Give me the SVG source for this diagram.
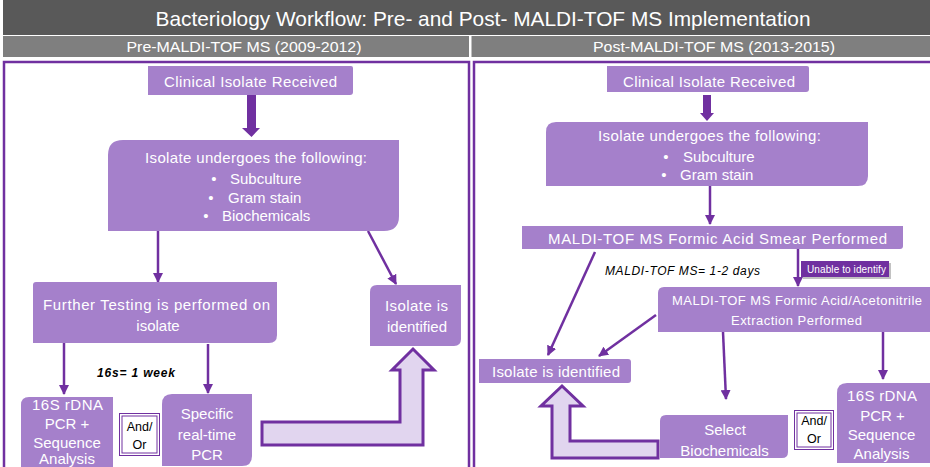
<svg xmlns="http://www.w3.org/2000/svg" width="930" height="467" viewBox="0 0 930 467">
<defs>
<style>
.node{fill:#a580cb;}
.t{font-family:"Liberation Sans",Arial,sans-serif;fill:#ffffff;}
.tc{text-anchor:middle;}
.conn{stroke:#7030a0;stroke-width:2.5;fill:none;}
.hollow{fill:#e1d5ef;stroke:#7030a0;stroke-width:3;}
.ao{fill:#ffffff;stroke:#7030a0;stroke-width:1;}
.aot{font-family:"Liberation Sans",Arial,sans-serif;fill:#000000;font-size:12.5px;text-anchor:middle;}
.it{font-family:"Liberation Sans",Arial,sans-serif;fill:#000000;font-size:12px;font-style:italic;}
</style>
<marker id="ah" viewBox="0 0 10 10" refX="9" refY="5" markerWidth="4" markerHeight="4" orient="auto" markerUnits="strokeWidth">
<path d="M0,0 L10,5 L0,10 Z" fill="#7030a0"/>
</marker>
</defs>
<rect x="0" y="0" width="930" height="467" fill="#ffffff"/>
<!-- header -->
<g id="header">
<rect x="3" y="0" width="927" height="35" fill="#595959"/>
<rect x="3" y="36" width="927" height="21" fill="#7f7f7f"/>
<rect x="469" y="36" width="2.5" height="21" fill="#ffffff"/>
<text x="483" y="26" class="t tc" font-size="21" textLength="655" lengthAdjust="spacingAndGlyphs">Bacteriology  Workflow: Pre- and Post- MALDI-TOF MS Implementation</text>
<text x="244" y="52" class="t tc" font-size="14.5" textLength="235" lengthAdjust="spacingAndGlyphs">Pre-MALDI-TOF  MS (2009-2012)</text>
<text x="714" y="52" class="t tc" font-size="14.5" textLength="242" lengthAdjust="spacingAndGlyphs">Post-MALDI-TOF  MS (2013-2015)</text>
</g>
<!-- panels -->
<g id="panels">
<rect x="4" y="62" width="465" height="420" fill="none" stroke="#7030a0" stroke-width="2.5"/>
<rect x="474" y="62" width="470" height="420" fill="none" stroke="#7030a0" stroke-width="2.5"/>
</g>
<!-- connectors -->
<g id="connectors">
<path d="M247,95 L256,95 L256,128 L260,128 L251.5,137 L242,128 L247,128 Z" fill="#7030a0"/>
<path d="M703,95 L711,95 L711,113 L714,113 L707,121 L700,113 L703,113 Z" fill="#7030a0"/>
<line x1="158" y1="231" x2="158" y2="282" class="conn" marker-end="url(#ah)"/>
<line x1="368" y1="231" x2="396" y2="284" class="conn" marker-end="url(#ah)"/>
<line x1="64" y1="343" x2="64" y2="394" class="conn" marker-end="url(#ah)"/>
<line x1="208" y1="344" x2="208" y2="393" class="conn" marker-end="url(#ah)"/>
<line x1="710" y1="186" x2="710" y2="224" class="conn" marker-end="url(#ah)"/>
<line x1="595" y1="252" x2="548" y2="355" class="conn" marker-end="url(#ah)"/>
<line x1="798" y1="249" x2="798" y2="286" class="conn" marker-end="url(#ah)"/>
<line x1="656" y1="315" x2="599" y2="356" class="conn" marker-end="url(#ah)"/>
<line x1="723" y1="332" x2="726" y2="399" class="conn" marker-end="url(#ah)"/>
<line x1="883" y1="332" x2="883" y2="379" class="conn" marker-end="url(#ah)"/>
<path class="hollow" d="M262,422 L400,422 L400,370 L392,370 L413,349 L434,370 L423,370 L423,445 L262,445 Z"/>
<path class="hollow" d="M658,441 L570,441 L570,406 L583,406 L562,386 L541,406 L552,406 L552,458 L658,458 Z"/>
</g>
<!-- left panel nodes -->
<g id="pre-clinical">
<path class="node" d="M148,66 L351,66 Q353,66 353,68 L353,92 Q353,95 350,95 L148,95 Z"/>
<text x="250.5" y="87" class="t tc" font-size="15" textLength="173" lengthAdjust="spacing">Clinical  Isolate  Received</text>
</g>
<g id="pre-undergoes">
<path class="node" d="M123,140 L399,140 L399,216 Q399,231 384,231 L108,231 L108,155 Q108,140 123,140 Z"/>
<text x="256" y="163" class="t tc" font-size="15" textLength="222" lengthAdjust="spacing">Isolate  undergoes   the following:</text>
<text x="214" y="184" class="t tc" font-size="15">•</text><text x="230" y="184" class="t" font-size="15">Subculture</text>
<text x="211" y="203" class="t tc" font-size="15">•</text><text x="228" y="203" class="t" font-size="15">Gram stain</text>
<text x="206" y="221" class="t tc" font-size="15">•</text><text x="222" y="221" class="t" font-size="15">Biochemicals</text>
</g>
<g id="pre-further">
<path class="node" d="M36,282 L277,282 L277,335 Q277,343 269,343 L33,343 L33,285 Q33,282 36,282 Z"/>
<text x="156.5" y="310" class="t tc" font-size="15" textLength="227" lengthAdjust="spacing">Further  Testing  is performed  on</text>
<text x="158" y="331" class="t tc" font-size="15">isolate</text>
</g>
<text x="97" y="377" class="it" font-weight="bold" textLength="78" lengthAdjust="spacing">16s= 1 week</text>
<g id="pre-identified">
<path class="node" d="M377,285 L461,285 L461,339 Q461,346 454,346 L370,346 L370,292 Q370,285 377,285 Z"/>
<text x="416.5" y="311" class="t tc" font-size="15" textLength="63" lengthAdjust="spacing">Isolate  is</text>
<text x="417" y="332" class="t tc" font-size="15">identified</text>
</g>
<g id="pre-16s">
<path class="node" d="M29,397 L113,397 L113,480 L21,480 L21,405 Q21,397 29,397 Z"/>
<text x="67.5" y="410" class="t tc" font-size="15" textLength="71" lengthAdjust="spacing">16S  rDNA</text>
<text x="67" y="429" class="t tc" font-size="15">PCR  +</text>
<text x="67" y="448" class="t tc" font-size="15">Sequence</text>
<text x="67" y="464" class="t tc" font-size="15">Analysis</text>
</g>
<g id="pre-andor">
<rect x="119.5" y="413.5" width="40" height="42" class="ao"/>
<rect x="122" y="416" width="35" height="37" class="ao"/>
<text x="139.5" y="431" class="aot">And/</text>
<text x="139.5" y="449" class="aot">Or</text>
</g>
<g id="pre-pcr">
<path class="node" d="M172,394 L252,394 L252,456 Q252,466 242,466 L162,466 L162,404 Q162,394 172,394 Z"/>
<text x="207" y="419" class="t tc" font-size="15">Specific</text>
<text x="207" y="440" class="t tc" font-size="15">real-time</text>
<text x="207" y="460" class="t tc" font-size="15">PCR</text>
</g>
<!-- right panel nodes -->
<g id="post-clinical">
<path class="node" d="M607,66 L807,66 Q809,66 809,68 L809,89 Q809,92 806,92 L607,92 Z"/>
<text x="709" y="87" class="t tc" font-size="15" textLength="172" lengthAdjust="spacing">Clinical  Isolate  Received</text>
</g>
<g id="post-undergoes">
<path class="node" d="M556,122 L868,122 L868,176 Q868,186 858,186 L546,186 L546,132 Q546,122 556,122 Z"/>
<text x="709.5" y="141" class="t tc" font-size="15" textLength="223" lengthAdjust="spacing">Isolate  undergoes   the following:</text>
<text x="666" y="162" class="t tc" font-size="15">•</text><text x="683" y="162" class="t" font-size="15">Subculture</text>
<text x="664" y="180" class="t tc" font-size="15">•</text><text x="680" y="180" class="t" font-size="15">Gram stain</text>
</g>
<g id="post-smear">
<path class="node" d="M522,226 L903,226 L903,246 Q903,249 900,249 L522,249 Z"/>
<text x="717.5" y="244" class="t tc" font-size="15" textLength="339" lengthAdjust="spacing">MALDI-TOF  MS Formic  Acid  Smear  Performed</text>
</g>
<text x="605" y="275" class="it" textLength="155" lengthAdjust="spacing">MALDI-TOF MS= 1-2 days</text>
<g id="post-unable">
<rect x="803" y="263" width="88" height="16" fill="#9a9a9a" opacity="0.6"/>
<rect x="801" y="261" width="88" height="16" fill="#7030a0"/>
<text x="846.5" y="273" class="t tc" font-size="10" textLength="79" lengthAdjust="spacing">Unable to  identify</text>
</g>
<g id="post-extraction">
<path class="node" d="M664,287 L930,287 L930,332 L658,332 L658,293 Q658,287 664,287 Z"/>
<text x="797" y="305" class="t tc" font-size="13" textLength="250" lengthAdjust="spacing">MALDI-TOF  MS Formic  Acid/Acetonitrile</text>
<text x="796.5" y="325" class="t tc" font-size="13" textLength="131" lengthAdjust="spacing">Extraction  Performed</text>
</g>
<g id="post-identified">
<path class="node" d="M479,359 L628,359 Q631,359 631,362 L631,380 Q631,383 628,383 L479,383 Z"/>
<text x="556" y="377" class="t tc" font-size="15" textLength="128" lengthAdjust="spacing">Isolate  is identified</text>
</g>
<g id="post-biochem">
<path class="node" d="M666,415 L788,415 L788,452 Q788,458 782,458 L660,458 L660,421 Q660,415 666,415 Z"/>
<text x="725" y="435" class="t tc" font-size="15">Select</text>
<text x="724.5" y="456" class="t tc" font-size="15">Biochemicals</text>
</g>
<g id="post-andor">
<rect x="794.5" y="410.5" width="39" height="39" class="ao"/>
<rect x="797" y="413" width="34" height="34" class="ao"/>
<text x="814" y="425" class="aot">And/</text>
<text x="814" y="443" class="aot">Or</text>
</g>
<g id="post-16s">
<path class="node" d="M847,383 L930,383 L930,463 L837,463 L837,393 Q837,383 847,383 Z"/>
<text x="882" y="401" class="t tc" font-size="15" textLength="70" lengthAdjust="spacing">16S  rDNA</text>
<text x="882.5" y="421" class="t tc" font-size="15">PCR  +</text>
<text x="881.5" y="440" class="t tc" font-size="15">Sequence</text>
<text x="881.5" y="459" class="t tc" font-size="15">Analysis</text>
</g>
</svg>
